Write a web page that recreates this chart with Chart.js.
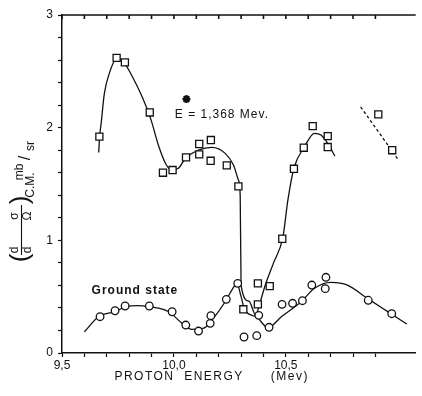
<!DOCTYPE html>
<html>
<head>
<meta charset="utf-8">
<script src="https://cdn.jsdelivr.net/npm/chart.js@4.4.1/dist/chart.umd.min.js"></script>
<style>
	html, body { margin: 0; padding: 0; background: #fff; }
	#wrap { width: 422px; height: 396px; }
</style>
</head>
<body>
<div id="wrap"><canvas id="chart" width="422" height="396"></canvas></div>
<script>
// Measured points, E = 1,368 Mev (squares)
const excitedX = [ 9.667, 9.744, 9.781, 9.892, 9.951, 9.994, 10.054, 10.113, 10.113, 10.165, 10.164, 10.236, 10.288, 10.310, 10.375, 10.375, 10.428, 10.484, 10.536, 10.580, 10.620, 10.687, 10.687, 10.913, 10.975 ];
const excitedY = [ 1.92, 2.62, 2.58, 2.135, 1.60, 1.624, 1.736, 1.855, 1.763, 1.89, 1.706, 1.665, 1.479, 0.388, 0.618, 0.432, 0.594, 1.014, 1.635, 1.822, 2.014, 1.925, 1.828, 2.118, 1.80 ];

// Measured points, ground state (circles)
const groundX = [ 9.670, 9.737, 9.782, 9.890, 9.992, 10.053, 10.110, 10.162, 10.165, 10.234, 10.285, 10.313, 10.370, 10.379, 10.425, 10.483, 10.530, 10.574, 10.616, 10.676, 10.679, 10.868, 10.973 ];
const groundY = [ 0.322, 0.375, 0.417, 0.417, 0.366, 0.248, 0.195, 0.263, 0.331, 0.476, 0.618, 0.142, 0.154, 0.334, 0.228, 0.432, 0.441, 0.464, 0.603, 0.571, 0.672, 0.468, 0.349 ];

// Hand-drawn curves
const excitedCurveX = [ 9.664, 9.668, 9.675, 9.689, 9.711, 9.745, 9.778, 9.815, 9.859, 9.896, 9.933, 9.963, 9.99, 10.02, 10.051, 10.11, 10.169, 10.229, 10.266, 10.288, 10.296, 10.300, 10.335, 10.365, 10.385, 10.406, 10.445, 10.487, 10.509, 10.536, 10.583, 10.628, 10.657, 10.687, 10.719 ];
const excitedCurveY = [ 1.78, 1.92, 2.04, 2.30, 2.48, 2.615, 2.575, 2.45, 2.27, 2.08, 1.83, 1.68, 1.625, 1.64, 1.727, 1.80, 1.825, 1.772, 1.668, 1.535, 1.40, 0.60, 0.46, 0.34, 0.45, 0.59, 0.80, 1.03, 1.357, 1.64, 1.83, 1.95, 1.934, 1.86, 1.748 ];

const groundCurveX = [ 9.60, 9.667, 9.734, 9.785, 9.837, 9.889, 9.977, 10.036, 10.08, 10.133, 10.17, 10.229, 10.262, 10.282, 10.30, 10.317, 10.369, 10.42, 10.48, 10.568, 10.628, 10.70, 10.775, 10.864, 10.967, 11.04 ];
const groundCurveY = [ 0.189, 0.328, 0.366, 0.41, 0.42, 0.41, 0.366, 0.264, 0.21, 0.22, 0.293, 0.455, 0.57, 0.615, 0.50, 0.38, 0.32, 0.225, 0.322, 0.455, 0.574, 0.627, 0.603, 0.485, 0.352, 0.257 ];

// dashed segment at the high-energy end
const dashedX = [ 10.834, 11.004 ];
const dashedY = [ 2.185, 1.71 ];

// asterisk next to the energy label
const starX = [ 10.056 ];
const starY = [ 2.254 ];

const xTickLabels = { '95': '9,5', '100': '10,0', '105': '10,5', '110': '11,0' };
const yTickLabels = [ '0', '1', '2', '3' ];

const ink = '#111';
const font = '"Liberation Sans", Arial, sans-serif';

const pts = ( xs, ys ) => xs.map( ( x, i ) => ( { x, y: ys[ i ] } ) );

const curve = ( xs, ys, dash ) => ( {
	data: pts( xs, ys ),
	showLine: true,
	pointRadius: 0,
	borderColor: ink,
	borderWidth: 1.3,
	borderDash: dash || [],
	cubicInterpolationMode: 'monotone',
	fill: false,
} );

const overlay = {
	id: 'overlay',
	afterDraw( chart ) {
		const { ctx, chartArea: a, scales: { x, y } } = chart;
		ctx.save();
		ctx.strokeStyle = ink;
		ctx.fillStyle = ink;

		// top frame with inward ticks
		ctx.lineWidth = 1.6;
		ctx.beginPath();
		ctx.moveTo( a.left, a.top );
		ctx.lineTo( a.right, a.top );
		x.ticks.forEach( ( t ) => {
			const px = x.getPixelForValue( t.value );
			ctx.moveTo( px, a.top );
			ctx.lineTo( px, a.top + 4 );
		} );
		ctx.stroke();

		// in-plot labels
		ctx.textBaseline = 'middle';
		ctx.textAlign = 'left';
		ctx.letterSpacing = '1px';
		ctx.font = '12px ' + font;
		ctx.fillText( 'E = 1,368 Mev.', x.getPixelForValue( 10.004 ), y.getPixelForValue( 2.112 ) );
		ctx.font = 'bold 12px ' + font;
		ctx.fillText( 'Ground state', x.getPixelForValue( 9.632 ), y.getPixelForValue( 0.55 ) );

		// x title
		ctx.letterSpacing = '1.5px';
		ctx.font = '12px ' + font;
		ctx.fillText( 'PROTON  ENERGY', x.getPixelForValue( 9.734 ), 377 );
		ctx.fillText( '(Mev)', x.getPixelForValue( 10.433 ), 377 );

		// y title, rotated: fillText( s, -screenY, screenX )
		ctx.letterSpacing = '0px';
		ctx.rotate( -Math.PI / 2 );
		ctx.textAlign = 'center';
		ctx.font = '26px ' + font;
		ctx.fillText( '(', -258, 21 );
		ctx.fillText( ')', -200, 21 );
		ctx.font = '12px ' + font;
		ctx.fillText( 'd', -250, 15 );
		ctx.fillText( 'σ', -216, 15 );
		ctx.fillText( 'd', -250, 28 );
		ctx.fillText( 'Ω', -216, 28 );
		ctx.fillText( 'C.M.', -185, 31 );
		ctx.fillText( 'mb', -172, 20 );
		ctx.fillText( 'sr', -146, 31 );
		ctx.font = '16px ' + font;
		ctx.fillText( '/', -158, 26 );
		ctx.lineWidth = 1.1;
		ctx.beginPath();
		ctx.moveTo( -255, 21.5 );
		ctx.lineTo( -205, 21.5 );
		ctx.stroke();
		ctx.restore();
	},
};

new Chart( document.getElementById( 'chart' ), {
	type: 'scatter',
	data: {
		datasets: [
			{
				data: pts( starX, starY ),
				pointStyle: 'star',
				pointRadius: 4,
				borderWidth: 2.2,
				borderColor: ink,
				backgroundColor: ink,
			},
			{
				data: pts( excitedX, excitedY ),
				pointStyle: 'rect',
				pointRadius: 5,
				borderWidth: 1.3,
				borderColor: ink,
				backgroundColor: '#fff',
			},
			{
				data: pts( groundX, groundY ),
				pointStyle: 'circle',
				pointRadius: 3.8,
				borderWidth: 1.3,
				borderColor: ink,
				backgroundColor: '#fff',
			},
			curve( excitedCurveX, excitedCurveY ),
			curve( groundCurveX, groundCurveY ),
			curve( dashedX, dashedY, [ 3, 2.5 ] ),
		],
	},
	options: {
		responsive: false,
		animation: false,
		events: [],
		layout: { padding: { top: 15, right: 4, left: 0, bottom: 0 } },
		plugins: {
			legend: { display: false },
			tooltip: { enabled: false },
		},
		scales: {
			x: {
				type: 'linear',
				min: 9.5,
				max: 11.08,
				afterFit: ( s ) => { s.height = 43; },
				afterBuildTicks: ( s ) => { s.ticks = s.ticks.filter( ( t ) => t.value <= 11.0001 ); },
				grid: { drawOnChartArea: false, tickLength: 4, tickColor: ink, tickWidth: 1.2 },
				border: { color: ink, width: 1.5 },
				ticks: {
					stepSize: 0.1,
					autoSkip: false,
					maxRotation: 0,
					padding: 1,
					color: ink,
					font: { family: font, size: 12 },
					callback: ( v ) => xTickLabels[ String( Math.round( v * 10 ) ) ] || '',
				},
			},
			y: {
				min: 0,
				max: 3,
				afterFit: ( s ) => { s.width = 62; },
				grid: { drawOnChartArea: false, tickLength: 4, tickColor: ink, tickWidth: 1.2 },
				border: { color: ink, width: 1.5 },
				ticks: {
					stepSize: 0.2,
					autoSkip: false,
					padding: 5,
					color: ink,
					font: { family: font, size: 12 },
					callback: ( v ) => ( Math.abs( v - Math.round( v ) ) < 1e-6 ? yTickLabels[ Math.round( v ) ] : '' ),
				},
			},
		},
	},
	plugins: [ overlay ],
} );
</script>
</body>
</html>
